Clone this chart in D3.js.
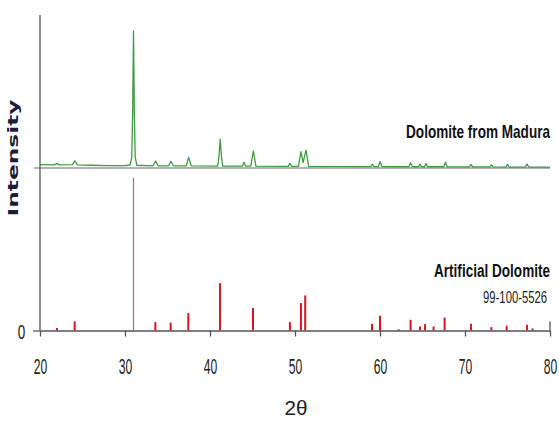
<html>
  <head>
    <meta charset="UTF-8">
    <style>
      body { margin: 0; background: #fff; }
      text { font-family: "Liberation Sans", Arial, sans-serif; }
    </style>
  </head>
  <body>
    <script src="https://d3js.org/d3.v7.min.js"></script>
    <script>

var width = 559;
var height = 421;

// measured pattern of the Madura sample (2theta, relative intensity)
var maduraAngle = [20.0, 21.7, 22.0, 22.3, 23.8, 24.1, 24.4, 26.0, 28.0, 30.0,
    30.6, 30.8, 30.9, 31.0, 31.1, 31.2, 31.4, 33.3, 33.6, 33.9,
    35.1, 35.4, 35.7, 37.2, 37.5, 37.8, 40.9, 41.05, 41.2, 41.35,
    41.5, 43.8, 44.0, 44.2, 44.8, 45.1, 45.4, 49.2, 49.4, 49.6,
    50.4, 50.7, 50.95, 51.3, 51.6, 58.9, 59.1, 59.3, 59.8, 60.0,
    60.25, 63.4, 63.6, 63.8, 64.55, 64.7, 64.85, 65.25, 65.4, 65.6,
    67.5, 67.7, 67.9, 70.5, 70.7, 70.9, 72.9, 73.1, 73.3, 74.8,
    75.0, 75.2, 77.1, 77.3, 77.5, 80.0];
var maduraIntensity = [2.4, 2.3, 3.4, 2.3, 2.5, 5.3, 2.3, 2.0, 1.8, 1.8,
    2.2, 8, 40, 100, 40, 8, 2.0, 1.6, 5.1, 1.6,
    1.5, 4.9, 1.5, 1.5, 7.8, 1.5, 1.4, 8, 21, 8,
    1.4, 1.3, 4.2, 1.3, 1.3, 12.4, 1.3, 1.2, 3.4, 1.2,
    1.2, 11.9, 4, 13.1, 1.2, 1.0, 2.7, 1.0, 1.0, 4.6,
    1.0, 0.9, 3.9, 0.9, 0.9, 2.9, 0.9, 0.9, 3.3, 0.9,
    0.9, 4.2, 0.9, 0.8, 2.6, 0.8, 0.8, 2.2, 0.8, 0.7,
    2.6, 0.7, 0.7, 2.9, 0.7, 0.6];

// reference card 99-100-5526 (stick pattern)
var refAngle = [22.0, 24.08, 31.0, 33.57, 35.37, 37.45, 41.18, 45.06, 49.4, 50.7,
    51.2, 59.06, 60.0, 62.2, 63.6, 64.7, 65.3, 66.3, 67.6, 70.7,
    73.1, 74.9, 77.3, 77.96];
var refIntensity = [1.6, 6, 100, 5.5, 5.2, 11.4, 31, 14.7, 5.5, 18,
    23, 4.4, 9.6, 0.8, 7, 2.6, 4.2, 2.6, 8.5, 4.4,
    2.2, 3.1, 3.7, 1.3];

var xTicks = [20, 30, 40, 50, 60, 70, 80];

var svg = d3.select("body").append("svg")
    .attr("width", width).attr("height", height);

var x = d3.scaleLinear().domain([20, 80]).range([40, 550]);
var yTop = d3.scaleLinear().domain([0, 100]).range([168, 31]);
var yBot = d3.scaleLinear().domain([0, 100]).range([330.5, 178]);

// squeeze a text horizontally to a given width (the original lettering is condensed)
function squeeze(sel, tx, ty, w, rot) {
    sel.attr("x", 0).attr("y", 0);
    var n = sel.node().getComputedTextLength();
    sel.attr("transform", "translate(" + tx + "," + ty + ")" +
        (rot ? " rotate(" + rot + ")" : "") + " scale(" + (w / n) + ",1)");
}

// upper baseline
svg.append("line")
    .attr("x1", 34).attr("x2", x(80))
    .attr("y1", yTop(0)).attr("y2", yTop(0))
    .style("stroke", "#666").attr("stroke-width", 1.2);

// green diffractogram
var line = d3.line()
    .x(function(d, i) { return x(maduraAngle[i]); })
    .y(function(d) { return yTop(d); });

svg.append("path")
    .datum(maduraIntensity)
    .attr("d", line)
    .style("fill", "none")
    .style("stroke", "#3f9a42")
    .attr("stroke-width", 1.3)
    .attr("stroke-linejoin", "round");

// red sticks
svg.selectAll(".stick")
    .data(refIntensity)
    .enter().append("line")
    .attr("class", "stick")
    .attr("x1", function(d, i) { return x(refAngle[i]); })
    .attr("x2", function(d, i) { return x(refAngle[i]); })
    .attr("y1", yBot(0))
    .attr("y2", function(d) { return yBot(d); })
    .style("stroke", function(d) { return d == 100 ? "#c9605c" : "#d8141f"; })
    .attr("stroke-width", function(d) { return d == 100 ? 1.2 : 2; });

// axes
var xAxis = svg.append("g")
    .attr("transform", "translate(0," + yBot(0) + ")")
    .call(d3.axisBottom(x).tickValues(xTicks).tickSize(6).tickSizeOuter(0));
xAxis.select(".domain").style("stroke", "#555").attr("stroke-width", 1.3);
xAxis.selectAll(".tick line").style("stroke", "#555").attr("stroke-width", 1.3);
xAxis.selectAll(".tick text")
    .attr("dy", 0)
    .style("font-size", "22px").style("fill", "#222")
    .style("font-family", "Liberation Sans, Arial, sans-serif")
    .each(function() { squeeze(d3.select(this), 0, 43, 13.5); });

// right end tick reaches above the axis
svg.append("line")
    .attr("x1", x(80)).attr("x2", x(80))
    .attr("y1", yBot(0) - 9).attr("y2", yBot(0))
    .style("stroke", "#555").attr("stroke-width", 1.3);

var yAxis = svg.append("g")
    .attr("transform", "translate(" + x(20) + ",0)")
    .call(d3.axisLeft(yBot).tickValues([0]).tickSize(7).tickSizeOuter(0));
yAxis.select(".domain").remove();
yAxis.selectAll(".tick line").style("stroke", "#555").attr("stroke-width", 1.3);
yAxis.selectAll(".tick text")
    .attr("dy", "0.36em").attr("text-anchor", "middle")
    .style("font-size", "21px").style("fill", "#222")
    .style("font-family", "Liberation Sans, Arial, sans-serif")
    .each(function() { squeeze(d3.select(this), -18.5, 0, 7.5); });

svg.append("line")
    .attr("x1", x(20)).attr("x2", x(20))
    .attr("y1", 15).attr("y2", yBot(0))
    .style("stroke", "#555").attr("stroke-width", 1.3);

// labels
svg.append("text")
    .attr("text-anchor", "end")
    .style("font-size", "19px").style("font-weight", "bold").style("fill", "#111")
    .text("Dolomite from Madura")
    .call(squeeze, 550, 137.5, 144);

svg.append("text")
    .attr("text-anchor", "end")
    .style("font-size", "19px").style("font-weight", "bold").style("fill", "#111")
    .text("Artificial Dolomite")
    .call(squeeze, 550, 276.5, 116);

svg.append("text")
    .attr("text-anchor", "end")
    .style("font-size", "16px").style("fill", "#222")
    .text("99-100-5526")
    .call(squeeze, 547, 303, 64);

svg.append("text")
    .attr("text-anchor", "middle")
    .style("font-family", "DejaVu Sans, sans-serif")
    .style("font-size", "13.5px").style("font-weight", "bold").style("fill", "#1c1c3c")
    .text("Intensity")
    .call(squeeze, 18, 158, 117, -90);

svg.append("text")
    .attr("text-anchor", "middle")
    .style("font-size", "21px").style("fill", "#222")
    .text("2θ")
    .call(squeeze, 296, 415, 23);

    </script>
  </body>
</html>
